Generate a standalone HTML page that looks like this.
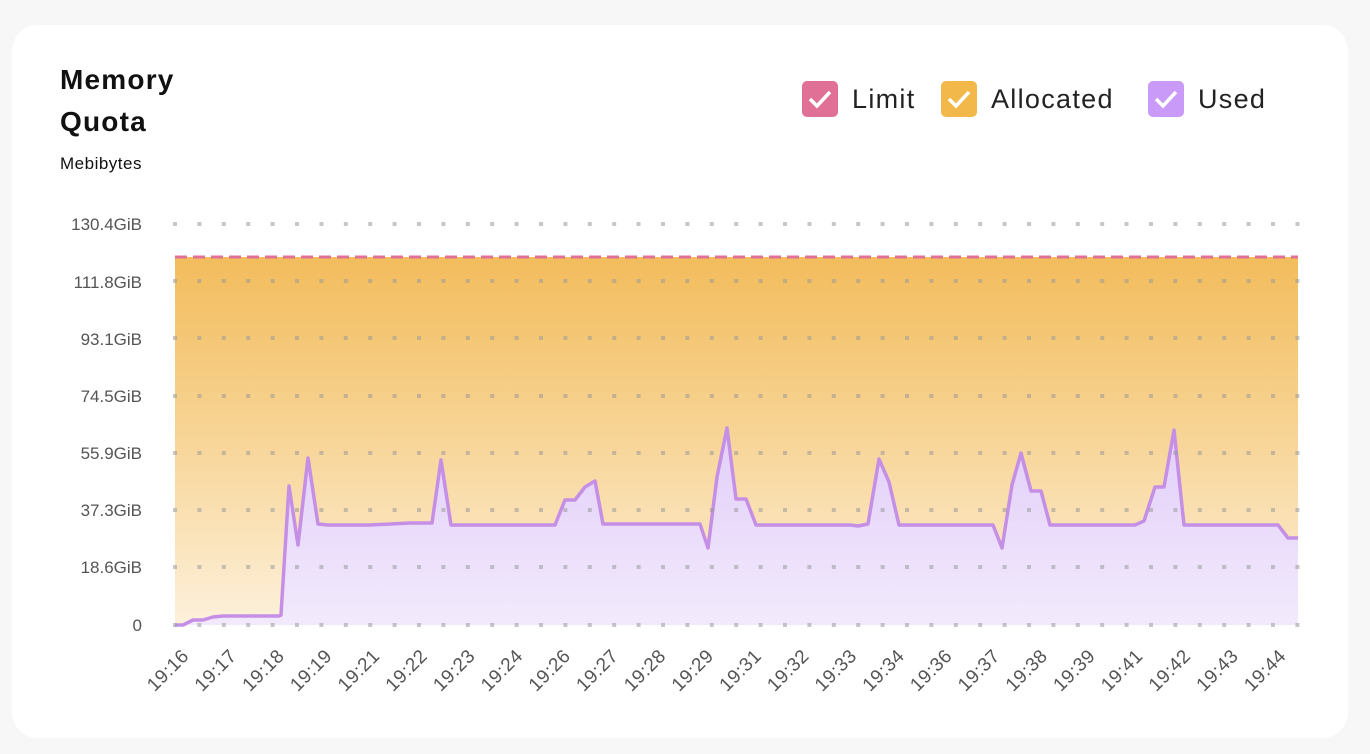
<!DOCTYPE html>
<html><head><meta charset="utf-8"><style>
body{margin:0;background:#f6f7f6;width:1370px;height:754px;overflow:hidden;font-family:"Liberation Sans",sans-serif}
.card{position:absolute;left:12px;top:25px;width:1336px;height:713px;background:#fff;border-radius:26px}
</style></head><body>
<div class="card"></div>
<svg width="1370" height="754" style="position:absolute;left:0;top:0">
<defs>
<linearGradient id="ga" x1="0" y1="257" x2="0" y2="625" gradientUnits="userSpaceOnUse">
<stop offset="0" stop-color="#f1b54a" stop-opacity="0.9"/><stop offset="1" stop-color="#fdf1dc"/></linearGradient>
<linearGradient id="gu" x1="0" y1="430" x2="0" y2="625" gradientUnits="userSpaceOnUse">
<stop offset="0" stop-color="#e2cef9"/><stop offset="1" stop-color="#f2eafc"/></linearGradient>
</defs>
<g font-size="28" font-weight="bold" fill="#111" letter-spacing="1.2">
<text x="60" y="89">Memory</text>
<text x="60" y="131">Quota</text>
</g>
<text x="60" y="169" font-size="17" fill="#111" letter-spacing="0.5">Mebibytes</text>
<g font-size="27" fill="#222" letter-spacing="1.3">
<rect x="802" y="81" width="36" height="36" rx="5" fill="#e07095"/><path d="M810 99l7 7 13-14" stroke="#fff" stroke-width="3.5" fill="none"/>
<text x="852" y="108">Limit</text>
<rect x="941" y="81" width="36" height="36" rx="5" fill="#f2b84a"/><path d="M949 99l7 7 13-14" stroke="#fff" stroke-width="3.5" fill="none"/>
<text x="991" y="108">Allocated</text>
<rect x="1148" y="81" width="36" height="36" rx="5" fill="#c99af7"/><path d="M1156 99l7 7 13-14" stroke="#fff" stroke-width="3.5" fill="none"/>
<text x="1198" y="108">Used</text>
</g>
<rect x="175" y="257" width="1123" height="368" fill="url(#ga)"/>
<g font-size="17" fill="#555" text-anchor="end">
<text x="142" y="230">130.4GiB</text><text x="142" y="288">111.8GiB</text><text x="142" y="345">93.1GiB</text><text x="142" y="402">74.5GiB</text><text x="142" y="459">55.9GiB</text><text x="142" y="516">37.3GiB</text><text x="142" y="573">18.6GiB</text><text x="142" y="631">0</text>
</g>
<polygon fill="url(#gu)" points="175,625 183,625 193,620 203,620 213,617 223,616 279,616 281,615 289,486 298,545 308,458 318,524 328,525 370,525 410,523 418,523 432,523 441,460 451,525 555,525 565,500 575,500 585,487 595,481 603,524 700,524 708,548 717,477 727,428 736,499 746,499 756,525 850,525 858,526 868,524 879,459 889,482 899,525 993,525 1002,548 1012,485 1021,453 1031,491 1041,491 1050,525 1135,525 1144,521 1155,487 1164,487 1174,430 1184,525 1278,525 1288,538 1298,538 1298,625"/>
<polyline fill="none" stroke="#c58fe6" stroke-width="3.5" stroke-linejoin="round" points="175,625 183,625 193,620 203,620 213,617 223,616 279,616 281,615 289,486 298,545 308,458 318,524 328,525 370,525 410,523 418,523 432,523 441,460 451,525 555,525 565,500 575,500 585,487 595,481 603,524 700,524 708,548 717,477 727,428 736,499 746,499 756,525 850,525 858,526 868,524 879,459 889,482 899,525 993,525 1002,548 1012,485 1021,453 1031,491 1041,491 1050,525 1135,525 1144,521 1155,487 1164,487 1174,430 1184,525 1278,525 1288,538 1298,538"/>
<g stroke="#999" stroke-opacity="0.55" stroke-width="4" stroke-dasharray="4 20.4">
<line x1="173" x2="1300" y1="224" y2="224"/><line x1="173" x2="1300" y1="281" y2="281"/><line x1="173" x2="1300" y1="338" y2="338"/><line x1="173" x2="1300" y1="396" y2="396"/><line x1="173" x2="1300" y1="453" y2="453"/><line x1="173" x2="1300" y1="510" y2="510"/><line x1="173" x2="1300" y1="567" y2="567"/><line x1="173" x2="1300" y1="625" y2="625"/>
</g>
<line x1="175" x2="1298" y1="257" y2="257" stroke="#e07095" stroke-width="3" stroke-dasharray="12 6"/>
<g font-size="19" fill="#555" text-anchor="end" letter-spacing="0.5" id="xl"></g>
</svg>
<script>
var L=["19:16","19:17","19:18","19:19","19:21","19:22","19:23","19:24","19:26","19:27","19:28","19:29","19:31","19:32","19:33","19:34","19:36","19:37","19:38","19:39","19:41","19:42","19:43","19:44"];
var g=document.getElementById('xl'),s='';
for(var i=0;i<24;i++){var x=190+i*47.7,y=657;s+='<text x="'+x+'" y="'+y+'" transform="rotate(-45 '+x+' '+y+')">'+L[i]+'</text>';}
g.innerHTML=s;
</script>
</body></html>
